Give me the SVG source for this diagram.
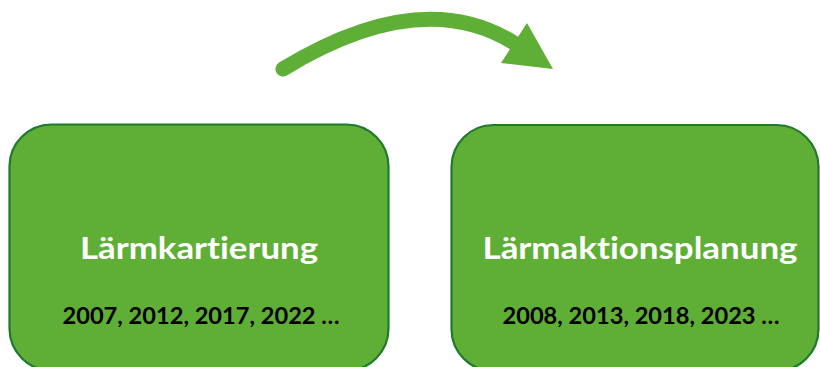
<svg xmlns="http://www.w3.org/2000/svg" width="820" height="367" viewBox="0 0 820 367">
<style>
.box{fill:#5FAE36;stroke:#1F7A2C;stroke-width:2.2}
.title{font-family:Lato,"Open Sans","Liberation Sans",sans-serif;font-weight:bold;font-size:31px;fill:#FFFFFF;text-anchor:middle;font-variant-ligatures:none}
.years{font-family:Lato,"Open Sans","Liberation Sans",sans-serif;font-weight:bold;font-size:23px;fill:#000000;text-anchor:middle;font-variant-ligatures:none}
</style>
<rect width="820" height="367" fill="#FFFFFF"/>
<g id="connectors">
<path d="M283 69 Q421 -15 514 43" fill="none" stroke="#5FAE36" stroke-width="15" stroke-linecap="round"/>
<polygon points="527,23 553,69 501,63" fill="#5FAE36"/>
</g>
<g id="node-laermkartierung">
<rect class="box" x="9.5" y="124.5" width="379" height="246" rx="42" ry="42"/>
<text class="title" x="199" y="259" textLength="238" lengthAdjust="spacingAndGlyphs">Lärmkartierung</text>
<text class="years" x="201" y="324" textLength="277" lengthAdjust="spacingAndGlyphs">2007, 2012, 2017, 2022 …</text>
</g>
<g id="node-laermaktionsplanung">
<rect class="box" x="451.5" y="125" width="367" height="246" rx="42" ry="42"/>
<text class="title" x="640" y="259" textLength="315" lengthAdjust="spacingAndGlyphs">Lärmaktionsplanung</text>
<text class="years" x="641" y="324" textLength="277" lengthAdjust="spacingAndGlyphs">2008, 2013, 2018, 2023 …</text>
</g>
</svg>
